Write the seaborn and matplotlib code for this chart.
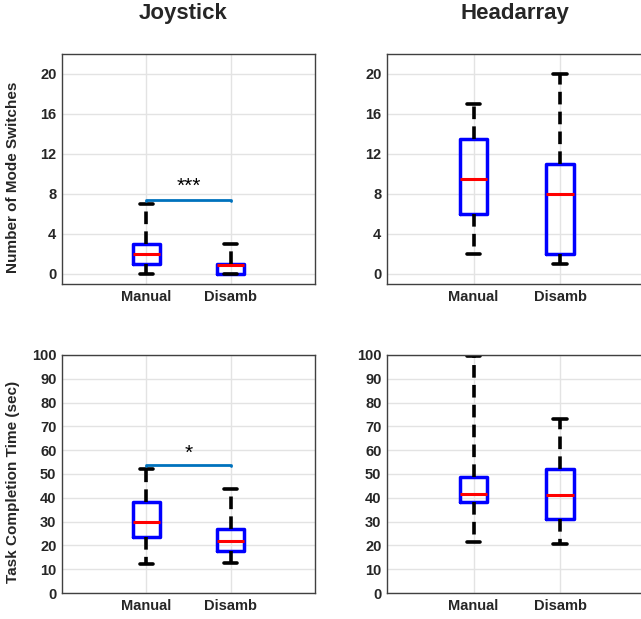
import numpy as np
import pandas as pd
import matplotlib
matplotlib.use("Agg")
import matplotlib.pyplot as plt
import seaborn as sns

# five-number summaries: [min, q1, median, q3, max]
conditions = ["Manual", "Disamb"]
joy_switches = {"Manual": [0, 1, 2, 3, 7], "Disamb": [0, 0, 0.9, 1, 3]}
head_switches = {"Manual": [2, 6, 9.5, 13.5, 17], "Disamb": [1, 2, 8, 11, 20]}
joy_time = {"Manual": [12.2, 23.7, 29.8, 38.2, 52.2], "Disamb": [12.5, 17.6, 21.9, 26.7, 43.8]}
head_time = {"Manual": [21.5, 38.1, 41.7, 48.9, 99.4], "Disamb": [20.4, 31.0, 41.3, 52.0, 73.2]}

# significance brackets: (height, label height, label)
sig_switches = (7.35, 8.8, "***")
sig_time = (53.9, 58.7, "*")

sns.set_style("whitegrid")
plt.rcParams["font.family"] = ["Liberation Sans", "DejaVu Sans"]

fig = plt.figure(figsize=(6.41, 6.19), dpi=100)
positions = {
    "tl": [0.0967, 0.5412, 0.3947, 0.3716],
    "tr": [0.6037, 0.5412, 0.4050, 0.3716],
    "bl": [0.0967, 0.0420, 0.3947, 0.3845],
    "br": [0.6037, 0.0420, 0.4050, 0.3845],
}


def to_frame(summary):
    rows = []
    for cond in conditions:
        for v in summary[cond]:
            rows.append({"condition": cond, "value": v})
    return pd.DataFrame(rows)


def draw(ax, summary, ylim, yticks):
    df = to_frame(summary)
    sns.boxplot(data=df, x="condition", y="value", order=conditions, ax=ax,
                whis=(0, 100), width=0.315, fill=False, linewidth=2,
                boxprops=dict(color="#0000ff", linewidth=2.5),
                medianprops=dict(color="#ff0000", linewidth=2.2),
                whiskerprops=dict(color="black", linestyle=(0, (3.5, 2)), linewidth=2.6),
                capprops=dict(color="black", linewidth=2.6),
                showfliers=False)
    ax.set_xlim(-1, 2)
    ax.set_ylim(*ylim)
    ax.set_yticks(yticks)
    ax.set_xlabel("")
    ax.set_ylabel("")
    ax.grid(True, color="#e3e3e3", linewidth=1)
    ax.set_axisbelow(True)
    for s in ax.spines.values():
        s.set_color("#404040")
        s.set_linewidth(1)
    ax.tick_params(direction="in", length=3, color="#404040", labelcolor="#262626",
                   labelsize=10.5, pad=4)
    for lab in ax.get_xticklabels() + ax.get_yticklabels():
        lab.set_fontweight("bold")


def bracket(ax, sig):
    y, ytxt, label = sig
    drop = 0.004 * np.diff(ax.get_ylim())[0]
    ax.plot([0, 0, 1, 1], [y - drop, y, y, y - drop],
            color="#0072BD", linewidth=2, solid_capstyle="round")
    ax.text(0.5, ytxt, label, ha="center", va="center", fontsize=15, color="black")


ax_tl = fig.add_axes(positions["tl"])
draw(ax_tl, joy_switches, (-1, 22), [0, 4, 8, 12, 16, 20])
bracket(ax_tl, sig_switches)
ax_tl.set_ylabel("Number of Mode Switches", fontsize=11, fontweight="bold")

ax_tr = fig.add_axes(positions["tr"])
draw(ax_tr, head_switches, (-1, 22), [0, 4, 8, 12, 16, 20])

ax_bl = fig.add_axes(positions["bl"])
draw(ax_bl, joy_time, (0, 100), list(range(0, 101, 10)))
bracket(ax_bl, sig_time)
ax_bl.set_ylabel("Task Completion Time (sec)", fontsize=11, fontweight="bold")

ax_br = fig.add_axes(positions["br"])
draw(ax_br, head_time, (0, 100), list(range(0, 101, 10)))

for ax in (ax_tl, ax_bl):
    ax.yaxis.set_label_coords(-0.165, 0.465)

fig.text(183 / 641, 1 - 13 / 619, "Joystick", ha="center", va="center",
         fontsize=16, fontweight="bold")
fig.text(515 / 641, 1 - 13 / 619, "Headarray", ha="center", va="center",
         fontsize=16, fontweight="bold")

fig.savefig("out.png", dpi=100)
